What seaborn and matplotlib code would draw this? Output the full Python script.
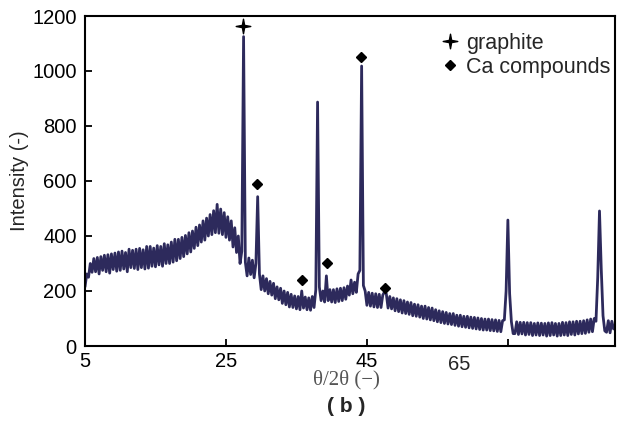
import numpy as np
import pandas as pd
import matplotlib
matplotlib.use("Agg")
import matplotlib.pyplot as plt
from matplotlib.path import Path
from matplotlib.lines import Line2D
import seaborn as sns

# ---- data ----
# 2theta grid: 5.00 .. 80.00 in 0.25 steps (one row per degree: d, d+.25, d+.5, d+.75)
two_theta_start = 5.0
two_theta_step = 0.25
intensity_rows = [
    [215, 262, 250, 300],   # 5
    [268, 318, 270, 322],   # 6
    [262, 325, 275, 330],   # 7
    [270, 332, 265, 335],   # 8
    [278, 338, 272, 342],   # 9
    [275, 345, 280, 340],   # 10
    [270, 352, 285, 348],   # 11
    [282, 352, 278, 355],   # 12
    [285, 350, 280, 362],   # 13
    [283, 362, 290, 356],   # 14
    [288, 365, 295, 362],   # 15
    [290, 372, 300, 368],   # 16
    [300, 378, 305, 388],   # 17
    [310, 388, 318, 395],   # 18
    [325, 402, 335, 412],   # 19
    [342, 418, 355, 432],   # 20
    [365, 440, 378, 455],   # 21
    [385, 465, 400, 478],   # 22
    [405, 492, 412, 515],   # 23
    [410, 498, 405, 485],   # 24
    [395, 470, 385, 455],   # 25
    [360, 430, 340, 400],   # 26
    [300, 345, 1125, 305],  # 27
    [255, 320, 260, 312],   # 28
    [248, 300, 543, 262],   # 29
    [205, 255, 200, 245],   # 30
    [190, 235, 185, 228],   # 31
    [172, 215, 168, 210],   # 32
    [155, 200, 150, 195],   # 33
    [142, 188, 140, 182],   # 34
    [135, 180, 132, 200],   # 35
    [138, 178, 132, 175],   # 36
    [130, 180, 140, 205],   # 37
    [887, 215, 165, 200],   # 38
    [160, 255, 165, 205],   # 39
    [160, 205, 158, 208],   # 40
    [162, 210, 165, 212],   # 41
    [170, 218, 185, 240],   # 42
    [190, 232, 195, 262],   # 43
    [275, 1018, 220, 200],  # 44
    [148, 195, 145, 192],   # 45
    [142, 190, 140, 188],   # 46
    [140, 185, 197, 190],   # 47
    [138, 180, 135, 175],   # 48
    [128, 172, 125, 168],   # 49
    [120, 165, 118, 160],   # 50
    [115, 158, 110, 152],   # 51
    [108, 150, 105, 145],   # 52
    [100, 145, 98, 140],    # 53
    [95, 138, 92, 132],     # 54
    [88, 128, 85, 125],     # 55
    [82, 122, 80, 118],     # 56
    [78, 118, 75, 112],     # 57
    [72, 112, 70, 108],     # 58
    [68, 108, 66, 105],     # 59
    [64, 104, 62, 102],     # 60
    [60, 100, 58, 98],      # 61
    [58, 98, 56, 96],       # 62
    [55, 95, 53, 93],       # 63
    [52, 92, 95, 200],      # 64
    [458, 190, 88, 45],     # 65
    [45, 88, 42, 86],       # 66
    [44, 86, 40, 85],       # 67
    [42, 85, 38, 82],       # 68
    [40, 84, 38, 83],       # 69
    [40, 82, 36, 84],       # 70
    [38, 85, 40, 82],       # 71
    [36, 82, 38, 86],       # 72
    [40, 85, 38, 88],       # 73
    [42, 88, 40, 90],       # 74
    [44, 90, 45, 92],       # 75
    [46, 95, 50, 98],       # 76
    [52, 100, 90, 250],     # 77
    [491, 280, 110, 55],    # 78
    [50, 92, 48, 90],       # 79
    [62],                   # 80
]

graphite_x = [27.4]
graphite_y = [1165]
ca_x = [29.4, 35.8, 39.3, 44.15, 47.55]
ca_y = [589, 240, 302, 1051, 211]

x_ticks = [5, 25, 45, 65]
x_ticklabels = ["5", "25", "45", ""]
y_ticks = [0, 200, 400, 600, 800, 1000, 1200]

# ---- build frame ----
intensity = [v for row in intensity_rows for v in row]
two_theta = two_theta_start + two_theta_step * np.arange(len(intensity))
df = pd.DataFrame({"two_theta": two_theta, "intensity": intensity})

sns.set_theme(style="ticks")
plt.rcParams["font.family"] = ["Liberation Sans", "DejaVu Sans"]

fig = plt.figure(figsize=(6.18, 4.21), dpi=100)
ax = fig.add_axes([85 / 618, 1 - 346 / 421, 530 / 618, 330 / 421])

line_color = "#2d2a5c"
sns.lineplot(data=df, x="two_theta", y="intensity", ax=ax, color=line_color,
             lw=2.0, estimator=None, sort=False)

star = Path.unit_regular_star(4, innerCircle=0.22)
ax.plot(graphite_x, graphite_y, linestyle="none", marker=star, markersize=10.5,
        color="black")
ax.plot(ca_x, ca_y, linestyle="none", marker="D", markersize=5.3, color="black")

ax.set_xlim(5, 80.2)
ax.set_ylim(0, 1200)
ax.set_xticks(x_ticks)
ax.set_xticklabels(x_ticklabels)
ax.set_yticks(y_ticks)
ax.tick_params(direction="in", length=5, width=1.3, labelsize=14.5,
               colors="black", pad=4)
ax.tick_params(axis="y", pad=6)
ax.text(58.1, -0.028, "65", transform=ax.get_xaxis_transform(), ha="center",
        va="top", fontsize=14.5)
for s in ax.spines.values():
    s.set_linewidth(1.5)
    s.set_color("black")

ax.set_ylabel("Intensity (-)", fontsize=14.5)
ax.yaxis.set_label_coords(-0.105, 0.5)
ax.set_xlabel("θ/2θ (−)", fontsize=15, family=["Liberation Serif", "DejaVu Serif"],
              color="#555555")
ax.xaxis.set_label_coords(0.4925, -0.072)

handles = [
    Line2D([], [], linestyle="none", marker=star, markersize=10.5, color="black"),
    Line2D([], [], linestyle="none", marker="D", markersize=5.3, color="black"),
]
ax.legend(handles, ["graphite", "Ca compounds"], loc="upper right",
          bbox_to_anchor=(1.0, 0.962), frameon=False, fontsize=15.5,
          handlelength=1.0, handletextpad=0.25, labelspacing=0.13,
          borderpad=0.0, borderaxespad=0.2)

fig.text(346 / 618, 1 - 406 / 421, "( b )", ha="center", va="center",
         fontsize=15, fontweight="bold")

fig.savefig("out.png", dpi=100)
